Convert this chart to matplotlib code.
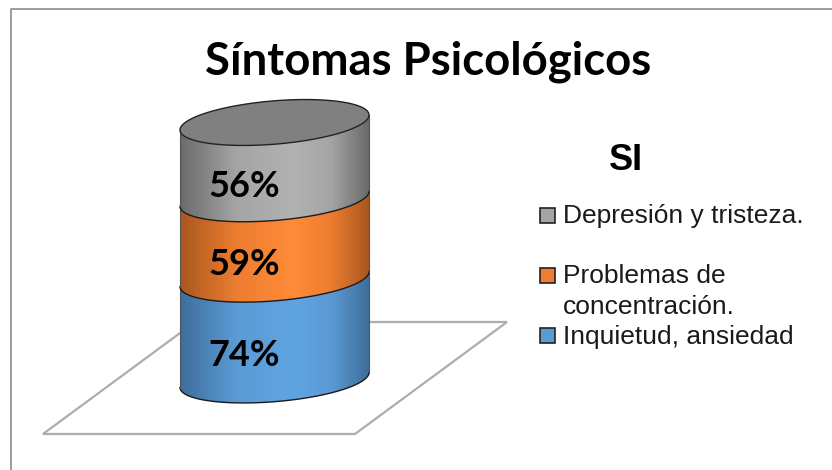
import matplotlib
matplotlib.use('Agg')
import matplotlib.pyplot as plt
import numpy as np
from matplotlib.patches import PathPatch, Polygon, Rectangle
from matplotlib.path import Path
from matplotlib.colors import LinearSegmentedColormap

W, H = 832, 470

title = 'Síntomas Psicológicos'
series_name = 'SI'
# de abajo hacia arriba
categorias = ['Inquietud, ansiedad', 'Problemas de\nconcentración.', 'Depresión y tristeza.']
valores = [74, 59, 56]
etiquetas = ['74%', '59%', '56%']
oscuro = ['#3f6e9b', '#a9581f', '#6b6b6b']
claro = ['#5fa4e2', '#ff8b38', '#b2b2b2']
relleno = ['#5b9bd5', '#ed7d31', '#a5a5a5']

fig = plt.figure(figsize=(W / 100, H / 100), dpi=100)

# fondo en pixeles: marco y plano del suelo
bg = fig.add_axes([0, 0, 1, 1])
bg.set_xlim(0, W)
bg.set_ylim(H, 0)
bg.axis('off')
bg.plot([10.5, 10.5, W], [H, 8.5, 8.5], color='#8c8c8c', lw=1.2)
bg.add_patch(Polygon([(43, 434), (355, 434), (507, 322), (195, 322)], closed=True,
                     fc='white', ec='#adadad', lw=1.6))

# cilindro apilado: los ejes llevan margen para que quepan las curvas
left, right, base, top = 180, 369, 380, 122.5
pad = 40
ax = fig.add_axes([left / W, 1 - (base + pad) / H, (right - left) / W, (base - top + 2 * pad) / H], zorder=2)
ax.patch.set_alpha(0)
ax.axis('off')
total = sum(valores)
px = (base - top) / total  # pixeles por unidad
sh = 7.5 / px
b = 21.7 / px
t = np.linspace(np.pi, 2 * np.pi, 80)
xs = np.cos(t)
ys = sh * np.cos(t) + b * np.sin(t)
x_all = np.linspace(-1, 1, 300)


def rampa(c1, c2, c3):
    return LinearSegmentedColormap.from_list('r', [(0, c1), (0.3, c3), (0.6, c2), (0.8, c3), (1, c1)])


y0 = 0
for val, lab, c1, c2, c3 in zip(valores, etiquetas, oscuro, claro, relleno):
    y1 = y0 + val
    xy = np.vstack([np.c_[xs, y0 + ys], np.c_[xs[::-1], y1 + ys[::-1]]])
    patch = PathPatch(Path(np.vstack([xy, xy[0]])), fc='none', ec='none')
    ax.add_patch(patch)
    im = ax.imshow(np.atleast_2d(x_all), extent=[-1, 1, -pad / px, total + pad / px], aspect='auto',
                   cmap=rampa(c1, c2, c3), vmin=-1, vmax=1, zorder=2)
    im.set_clip_path(patch)
    ax.plot(xs, y0 + ys, color='#1a1a1a', lw=1.0, zorder=3, clip_on=False)
    ax.plot([-1, -1], [y0 + ys[0], y1 + ys[0]], color='#555555', lw=0.8, zorder=3, clip_on=False)
    ax.plot([1, 1], [y0 + ys[-1], y1 + ys[-1]], color='#555555', lw=0.8, zorder=3, clip_on=False)
    ax.text(-0.32, (y0 + y1) / 2 - 26 / px, lab, ha='center', va='center', fontsize=26,
            fontweight='bold', family='Lato', color='black', zorder=5)
    y0 = y1

# tapa superior
tt = np.linspace(0, 2 * np.pi, 160)
tapa = PathPatch(Path(np.c_[np.cos(tt), total + sh * np.cos(tt) + b * np.sin(tt)]),
                 fc='#808080', ec='#222222', lw=1.0, zorder=4, clip_on=False)
ax.add_patch(tapa)
ax.set_xlim(-1, 1)
ax.set_ylim(-pad / px, total + pad / px)

# titulo y leyenda
over = fig.add_axes([0, 0, 1, 1], zorder=3)
over.set_xlim(0, W)
over.set_ylim(H, 0)
over.axis('off')
over.text(428, 74.5, title, ha='center', va='baseline', fontsize=32.8, fontweight='bold', family='Lato', color='black')
over.text(626, 170, series_name, ha='center', va='baseline', fontsize=26, fontweight='bold',
          family='Liberation Sans', color='black')

ley_y = [335, 275, 215]
ley_base = [344, 283, 223.5]
for cat, col, yc, yb in zip(categorias, relleno, ley_y, ley_base):
    over.add_patch(Rectangle((540, yc - 7.5), 15, 15, fc=col, ec='#222222', lw=1.2))
    lineas = cat.split('\n')
    for i, linea in enumerate(lineas):
        over.text(563, yb + i * 31, linea, ha='left', va='baseline', fontsize=19,
                  family='Liberation Sans', color='#1a1a1a')

fig.savefig('out.png', dpi=100)
